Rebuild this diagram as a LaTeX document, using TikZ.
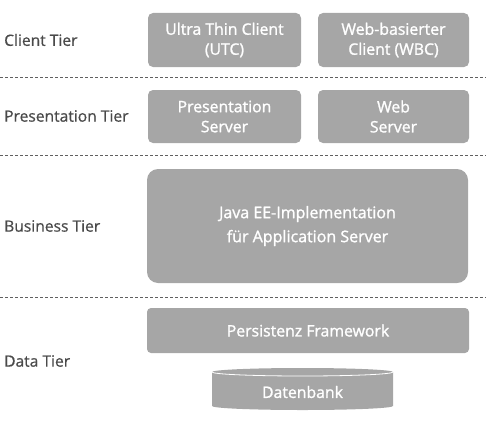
\documentclass[tikz,border=0pt]{standalone}
\usepackage{fontspec}
\setmainfont{Open Sans}
\newfontface\boxfont{Open Sans}[FakeBold=1.3]
\newfontface\labfont{Open Sans}[FakeBold=0.6]
\definecolor{boxgray}{HTML}{A6A6A6}
\definecolor{labelgray}{HTML}{4A4A4A}
\definecolor{linegray}{HTML}{606060}
\begin{document}
\begin{tikzpicture}[x=1pt,y=-1pt,
  tierbox/.style={fill=boxgray,draw=none,rounded corners=5pt,text=white,align=center,font=\boxfont\fontsize{15.8}{20}\selectfont,inner sep=0pt},
  tierlabel/.style={text=labelgray,anchor=west,font=\labfont\fontsize{15.6}{18}\selectfont,inner sep=0pt},
  tierline/.style={draw=linegray,dashed,dash pattern=on 3pt off 2pt,line width=0.7pt}]
\useasboundingbox (0,0) rectangle (486,420);
% labels
\node[tierlabel] (lc) at (4,40) {Client Tier};
\node[tierlabel] (lp) at (4,116) {Presentation Tier};
\node[tierlabel] (lb) at (4,226) {Business Tier};
\node[tierlabel] (ld) at (4,361) {Data Tier};
% separators
\coordinate (s1a) at (0,77); \coordinate (s1b) at (486,77);
\coordinate (s2a) at (0,155); \coordinate (s2b) at (486,155);
\coordinate (s3a) at (0,297); \coordinate (s3b) at (486,297);
\draw[tierline] (s1a) -- (s1b);
\draw[tierline] (s2a) -- (s2b);
\draw[tierline] (s3a) -- (s3b);
% boxes
\node[tierbox,minimum width=153pt,minimum height=54pt] (utc) at (224.5,40) {Ultra Thin Client\\(UTC)};
\node[tierbox,minimum width=151pt,minimum height=54pt] (wbc) at (393.5,40) {Web-basierter\\Client (WBC)};
\node[tierbox,minimum width=153pt,minimum height=53pt] (ps) at (224.5,116.5) {Presentation\\Server};
\node[tierbox,minimum width=151pt,minimum height=53pt] (ws) at (393.5,116.5) {Web\\Server};
\node[tierbox,rounded corners=11pt,minimum width=321pt,minimum height=114pt,font=\boxfont\fontsize{16}{24}\selectfont] (java) at (307.5,226) {Java EE-Implementation\\für Application Server};
\node[tierbox,rounded corners=4pt,minimum width=322pt,minimum height=45pt] (pf) at (308,330.5) {Persistenz Framework};
% cylinder
\fill[boxgray] (212,372) -- (212,406) arc[start angle=180,end angle=360,x radius=90.5pt,y radius=4pt] -- (393,372) arc[start angle=0,end angle=180,x radius=90.5pt,y radius=4pt] -- cycle;
\draw[white,line width=0.8pt] (212,372) arc[start angle=180,end angle=360,x radius=90.5pt,y radius=4pt];
\node[text=white,font=\boxfont\fontsize{15.8}{20}\selectfont,inner sep=0pt] (db) at (302.5,392) {Datenbank};
\end{tikzpicture}
\end{document}
